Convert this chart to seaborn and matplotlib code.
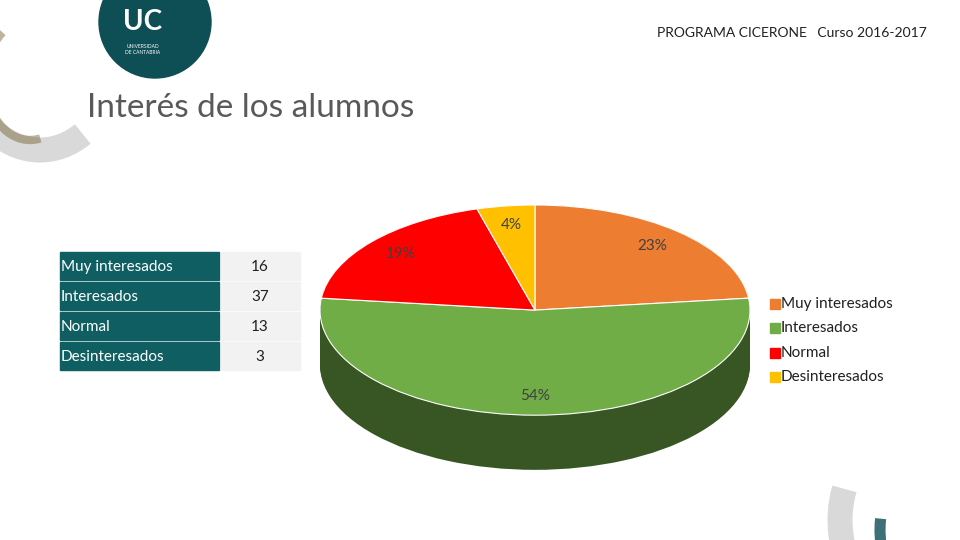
import numpy as np
import seaborn as sns
import matplotlib.pyplot as plt
from matplotlib.patches import Circle, Rectangle, Arc

# datos de la encuesta
categorias = ['Muy interesados', 'Interesados', 'Normal', 'Desinteresados']
alumnos = [16, 37, 13, 3]

colores = ['#ED7D31', '#70AD47', '#FF0000', '#FFC000']
colores_lado = ['#9E4F1A', '#375623', '#A00000', '#A07800']

sns.set_theme(style='white')
plt.rcParams['font.family'] = ['Lato', 'DejaVu Sans']

fig = plt.figure(figsize=(9.6, 5.4), dpi=100)
W, H = 960, 540

# fondo / decoracion
bg = fig.add_axes([0, 0, 1, 1])
bg.set_xlim(0, W)
bg.set_ylim(H, 0)
bg.axis('off')
bg.add_patch(Circle((155, 22), 56, color='#0E4E55', zorder=2))
bg.text(143, 30, 'UC', color='white', fontsize=20, fontweight='bold', ha='center', zorder=3)
bg.text(143, 44, 'UNIVERSIDAD\nDE CANTABRIA', color='white', fontsize=3.5, ha='center', va='top', zorder=3)
bg.add_patch(Arc((40, 60), 150, 180, theta1=60, theta2=200, color='#D9D9D9', lw=18, zorder=1))
bg.add_patch(Arc((30, 80), 90, 120, theta1=80, theta2=240, color='#7A6A3A', lw=6, alpha=0.5, zorder=1))
bg.add_patch(Arc((930, 520), 180, 200, theta1=90, theta2=200, color='#D9D9D9', lw=18, zorder=1))
bg.add_patch(Arc((945, 530), 130, 160, theta1=90, theta2=190, color='#0E4E55', lw=8, alpha=0.8, zorder=1))

bg.text(927, 33, 'PROGRAMA CICERONE   Curso 2016-2017', fontsize=10, color='#202020', ha='right', va='center')
bg.text(87, 108, 'Interés de los alumnos', fontsize=24, color='#595959', va='center')

# tabla
filas_y = [252, 282, 312, 342]
for i, (cat, val) in enumerate(zip(categorias, alumnos)):
    y = filas_y[i]
    bg.add_patch(Rectangle((60, y), 159, 28, color='#0F5F62'))
    bg.add_patch(Rectangle((221, y), 79, 28, color='#F2F2F2'))
    bg.text(61, y + 15, cat, color='white', fontsize=11, va='center')
    bg.text(260, y + 15, str(val), color='#202020', fontsize=11, va='center', ha='center')

# leyenda
for i, cat in enumerate(categorias):
    y = 304 + 24.3 * i
    bg.add_patch(Rectangle((770, y - 5), 10, 10, color=colores[i]))
    bg.text(781, y, cat, fontsize=11, color='#202020', va='center')

# pastel 3D
ax = fig.add_axes([320 / W, 67 / H, 430 / W, 268 / H])
for d in np.linspace(0.52, 0.0, 40):
    wedges, _ = ax.pie(alumnos, colors=colores_lado, startangle=90, counterclock=False,
                       center=(0, -d), radius=1, frame=True,
                       wedgeprops=dict(linewidth=0))
_, _, pcts = ax.pie(alumnos, colors=colores, startangle=90, counterclock=False,
                    radius=1, frame=True, autopct='%1.0f%%', pctdistance=0.82,
                    wedgeprops=dict(edgecolor='white', linewidth=0.8),
                    textprops=dict(color='#404040', fontsize=11))
ax.set_xlim(-1, 1)
ax.set_ylim(-1.55, 1.0)
ax.set_aspect('auto')
ax.axis('off')

fig.savefig('out.png', dpi=100)
